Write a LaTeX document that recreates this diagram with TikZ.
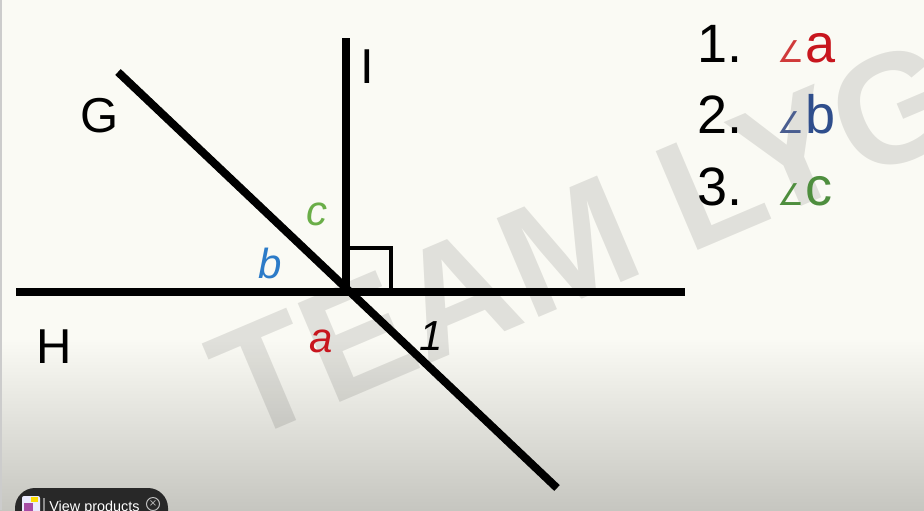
\documentclass[tikz,border=0pt]{standalone}
\usepackage{fontspec}
\setmainfont{Liberation Sans}
\newfontfamily\symfont{DejaVu Sans}
\usetikzlibrary{positioning}

\definecolor{paper}{HTML}{FAFAF4}
\definecolor{paperdark}{HTML}{C6C6C0}
\definecolor{redA}{HTML}{C8161E}
\definecolor{redAng}{HTML}{D03A3A}
\definecolor{blueB}{HTML}{2C7BC8}
\definecolor{blueList}{HTML}{2F4E8C}
\definecolor{blueAng}{HTML}{4A5E90}
\definecolor{greenC}{HTML}{6AAE48}
\definecolor{greenList}{HTML}{4E8E3E}
\definecolor{pilldark}{HTML}{282828}

\begin{document}
\begin{tikzpicture}[x=0.5pt, y=-0.5pt]
      \useasboundingbox (0,0) rectangle (924,510);
      \clip (0,0) rectangle (924,510);

      % Background and watermark
      \fill[paper] (0,0) rectangle (924,341);
      \shade[top color=paper, bottom color=paperdark] (0,340) rectangle (924,510);
      \fill[black!20] (0,0) rectangle (2,510);
      \node[anchor=base west, rotate=23, inner sep=0, text=black, text opacity=0.1,
            font=\fontsize{78}{80}\selectfont\bfseries] (wm) at (242,444) {TEAM LYG};

      % Define the style for the lines
      \tikzstyle{line}=[draw, line width=4pt]
      \tikzstyle{rightmark}=[draw, line width=2pt]

      % Points
      \coordinate (O)  at (346,292);
      \coordinate (Hl) at (16,292);
      \coordinate (Hr) at (685,292);
      \coordinate (It) at (346,38);
      \coordinate (Gt) at (118,72);
      \coordinate (Gb) at (557,488);
      \coordinate (Rt) at (391,248);

      % Lines
      \draw[line] (Hl) -- (Hr);
      \draw[line] (O) -- (It);
      \draw[line] (Gt) -- (Gb);
      \draw[rightmark] (O) rectangle (Rt);

      % Define the style for the labels
      \tikzstyle{every node}=[inner sep=0, anchor=base]
      \tikzstyle{letter}=[font=\fontsize{24.5}{26}\selectfont]
      \tikzstyle{angle}=[font=\fontsize{21}{24}\selectfont\itshape]

      % Labels
      \node[letter] (G) at (100,132) {G};
      \node[letter] (I) at (367,83) {I};
      \node[letter] (H) at (54,363) {H};
      \node[angle, greenC] (lc) at (317,225) {c};
      \node[angle, blueB] (lb) at (270,278) {b};
      \node[angle, redA] (la) at (321,352) {a};
      \node[angle] (l1) at (431,350) {1};

      % Define the style for the list
      \tikzstyle{item}=[font=\fontsize{27}{30}\selectfont, anchor=base west]
      \tikzstyle{sym}=[font=\symfont\fontsize{15}{16}\selectfont]

      % List
      \node[item] (n1) at (697,62) {1.};
      \node[item] (n2) at (697,133) {2.};
      \node[item] (n3) at (697,205) {3.};
      \node[sym, redAng] (ang1) [base right=17pt of n1] {∠};
      \node[sym, blueAng] (ang2) [base right=17pt of n2] {∠};
      \node[sym, greenList] (ang3) [base right=17pt of n3] {∠};
      \node[item, redA] (na) [base right=0.5pt of ang1] {a};
      \node[item, blueList] (nb) [base right=0.5pt of ang2] {b};
      \node[item, greenList] (nc) [base right=0.5pt of ang3] {c};

      % Product button
      \fill[pilldark, rounded corners=10pt] (15,488) rectangle (168,540);
      \fill[white!92!blue, rounded corners=1pt] (22,496) rectangle (40,514);
      \fill[violet!70] (24,503) rectangle (33,514);
      \fill[yellow!80!orange] (31,497) rectangle (38,502);
      \draw[black!45, line width=0.6pt] (44,498) -- (44,514);
      \node[anchor=base west, white, font=\fontsize{7.2}{8}\selectfont] (shop) at (49,511) {View products};
      \node[circle, draw=black!25, line width=0.5pt, minimum size=6.5pt, anchor=center,
            text=black!25, font=\symfont\fontsize{5}{5}\selectfont] (close) at (153,504) {×};
\end{tikzpicture}
\end{document}
